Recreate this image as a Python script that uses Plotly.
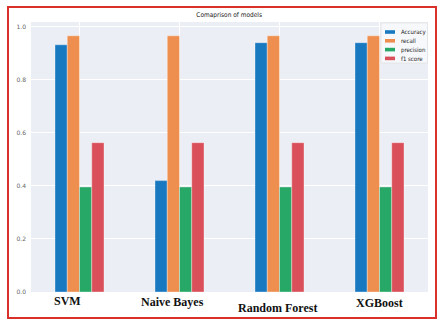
import plotly.graph_objects as go

models = ["SVM", "Naive Bayes", "Random Forest", "XGBoost"]
accuracy = [0.932, 0.42, 0.94, 0.94]
recall = [0.966, 0.966, 0.966, 0.966]
precision = [0.396, 0.396, 0.396, 0.396]
f1_score = [0.563, 0.563, 0.563, 0.563]
series_names = ["Accuracy", "recall", "precision", "f1 score"]
colors = ["#1878c0", "#ee8f4f", "#27a866", "#d9505a"]
label_offsets = [9, 10, 16, 11]   # px below the axis for the pasted labels
label_xshift = [-12, -7, -2, 0]

L, R, T, B = 31, 17, 22, 32
W, H = 445, 324
PW, PH = W - L - R, H - T - B


def px_x(x):
    return (x - L) / PW


def px_y(y):
    return (H - B - y) / PH


fig = go.Figure()
for name, vals, col in zip(series_names, [accuracy, recall, precision, f1_score], colors):
    fig.add_trace(go.Bar(
        x=list(range(len(models))), y=vals, name=name,
        marker=dict(color=col, line=dict(color="rgba(255,255,255,0.6)", width=0.6)),
        showlegend=False,
    ))

annotations = []
for i, (m, off, xs) in enumerate(zip(models, label_offsets, label_xshift)):
    annotations.append(dict(
        x=i, y=0, xref="x", yref="paper", text=m, showarrow=False,
        yanchor="middle", yshift=-off, xshift=xs,
        font=dict(family="Liberation Serif", size=12, color="#111111", weight="bold"),
    ))

shapes = []
# legend box
shapes.append(dict(type="rect", xref="paper", yref="paper",
                   x0=px_x(381), x1=px_x(427.5), y0=px_y(63), y1=px_y(23),
                   line=dict(color="#dcdcdc", width=0.6), fillcolor="rgba(247,248,251,0.95)",
                   layer="above"))
row_y = [32, 40.8, 49.6, 58.4]
for name, col, ry in zip(series_names, colors, row_y):
    shapes.append(dict(type="rect", xref="paper", yref="paper",
                       x0=px_x(385), x1=px_x(395), y0=px_y(ry + 1.8), y1=px_y(ry - 1.8),
                       line=dict(width=0), fillcolor=col, layer="above"))
    annotations.append(dict(x=px_x(398.5), y=px_y(ry), xref="paper", yref="paper",
                            text=name, showarrow=False, xanchor="left", yanchor="middle",
                            font=dict(family="DejaVu Sans Condensed", size=6, color="#222222")))

shapes.append(dict(type="rect", xref="paper", yref="paper",
                   x0=px_x(8), x1=px_x(436), y0=px_y(318), y1=px_y(7),
                   line=dict(color="#d9302a", width=2), fillcolor="rgba(0,0,0,0)", layer="above"))

fig.update_layout(
    width=W, height=H,
    margin=dict(l=L, r=R, t=T, b=B),
    paper_bgcolor="white",
    plot_bgcolor="#ebeef4",
    barmode="group", bargap=0.51, bargroupgap=0,
    title=dict(text="Comaprison of models", x=0.515, xanchor="center",
               y=0.955, yanchor="middle",
               font=dict(family="DejaVu Sans Condensed", size=6.5, color="#222222")),
    xaxis=dict(range=[-0.485, 3.485], tickvals=[0, 1, 2, 3], showticklabels=False,
               showgrid=True, gridcolor="white", gridwidth=1, zeroline=False, ticks=""),
    yaxis=dict(range=[0, 1.018], tickvals=[0, 0.2, 0.4, 0.6, 0.8, 1.0],
               ticktext=["0.0", "0.2", "0.4", "0.6", "0.8", "1.0"],
               tickfont=dict(family="DejaVu Sans", size=6, color="#666666"),
               showgrid=True, gridcolor="white", gridwidth=1, zeroline=False,
               ticks="", ticklabelstandoff=4),
    showlegend=False,
    annotations=annotations,
    shapes=shapes,
)

fig.write_html("out.html")
